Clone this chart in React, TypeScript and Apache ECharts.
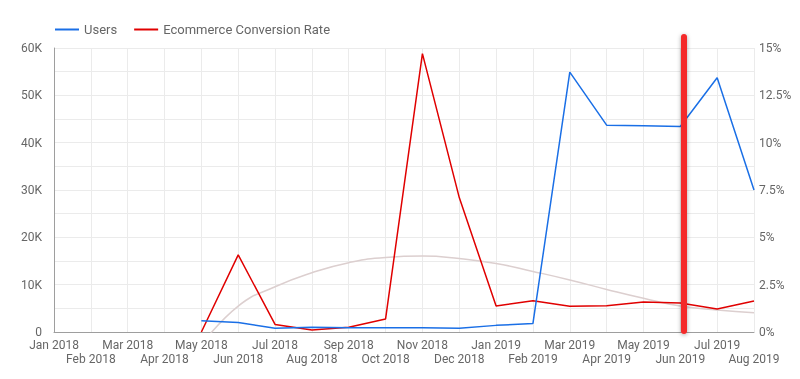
import React, { useEffect, useRef } from "react";
import * as echarts from "echarts";

const months = [
  "Jan 2018", "Feb 2018", "Mar 2018", "Apr 2018", "May 2018", "Jun 2018", "Jul 2018", "Aug 2018",
  "Sep 2018", "Oct 2018", "Nov 2018", "Dec 2018", "Jan 2019", "Feb 2019", "Mar 2019", "Apr 2019",
  "May 2019", "Jun 2019", "Jul 2019", "Aug 2019",
];
const users = [null, null, null, null, 2400, 2000, 800, 1000, 900, 900, 900, 800, 1400, 1800, 54900, 43700, 43600, 43400, 53700, 30000];
const conversion = [null, null, null, null, 0, 4.07, 0.4, 0.1, 0.25, 0.69, 14.7, 7.1, 1.37, 1.65, 1.36, 1.39, 1.58, 1.53, 1.21, 1.64];
const trend = [null, null, null, null, -0.7, 1.37, 2.39, 3.13, 3.66, 3.94, 4.01, 3.88, 3.62, 3.2, 2.75, 2.25, 1.78, 1.37, 1.16, 1.02];

export default function App() {
  const ref = useRef<HTMLDivElement>(null);
  useEffect(() => {
    if (!ref.current) return;
    const chart = echarts.init(ref.current, undefined, { renderer: "svg" });
    const font = "Roboto, 'Noto Sans', sans-serif";
    chart.setOption({
      animation: false,
      textStyle: { fontFamily: font },
      grid: { left: 54, right: 46, top: 48, bottom: 47, containLabel: false },
      legend: {
        data: ["Users", "Ecommerce Conversion Rate"],
        left: 50,
        top: 18,
        itemWidth: 24,
        itemHeight: 2,
        itemGap: 17,
        icon: "rect",
        textStyle: { color: "#666", fontSize: 13, fontFamily: font },
      },
      xAxis: {
        type: "category",
        data: months,
        boundaryGap: false,
        axisLine: { show: true, lineStyle: { color: "#9e9e9e", width: 1 } },
        axisTick: { show: false },
        splitLine: { show: true, lineStyle: { color: "#ebebeb", width: 1 } },
        axisLabel: {
          interval: 0,
          hideOverlap: false,
          color: "#666",
          fontSize: 12,
          lineHeight: 14,
          margin: 6,
          fontFamily: font,
          formatter: (v: string, i: number) => (i % 2 === 1 ? "\n" + v : v),
        },
      },
      yAxis: [
        {
          type: "value",
          min: 0,
          max: 60000,
          interval: 5000,
          axisLine: { show: true, lineStyle: { color: "#9e9e9e" } },
          axisTick: { show: false },
          splitLine: { show: true, lineStyle: { color: "#ebebeb" } },
          axisLabel: {
            color: "#666",
            fontSize: 12,
            margin: 12,
            fontFamily: font,
            formatter: (v: number) => (v % 10000 !== 0 ? "" : v === 0 ? "0" : v / 1000 + "K"),
          },
        },
        {
          type: "value",
          min: 0,
          max: 15,
          interval: 2.5,
          axisLine: { show: false },
          axisTick: { show: false },
          splitLine: { show: false },
          axisLabel: {
            color: "#666",
            fontSize: 12,
            margin: 5,
            fontFamily: font,
            formatter: (v: number) => v + "%",
          },
        },
      ],
      series: [
        {
          name: "Trend",
          type: "line",
          yAxisIndex: 1,
          data: trend,
          smooth: true,
          symbol: "none",
          clip: true,
          lineStyle: { color: "#dccfcf", width: 1.5 },
          z: 1,
        },
        {
          name: "Users",
          type: "line",
          yAxisIndex: 0,
          data: users,
          symbol: "none",
          itemStyle: { color: "#1a6fe6" },
          lineStyle: { color: "#1a6fe6", width: 1.5 },
          z: 3,
        },
        {
          name: "Ecommerce Conversion Rate",
          type: "line",
          yAxisIndex: 1,
          data: conversion,
          symbol: "none",
          itemStyle: { color: "#e00000" },
          lineStyle: { color: "#e00000", width: 1.5 },
          z: 2,
        },
      ],
      graphic: [
        {
          type: "rect",
          z: 100,
          shape: { x: 681, y: 34, width: 6, height: 300, r: 3 },
          style: {
            fill: "#f42a2a",
            shadowBlur: 4,
            shadowColor: "rgba(0,0,0,0.35)",
            shadowOffsetX: 0,
            shadowOffsetY: 1,
          },
        },
      ],
    });
    return () => chart.dispose();
  }, []);
  return <div ref={ref} style={{ position: "fixed", left: 0, top: 0, width: 800, height: 379 }} />;
}
